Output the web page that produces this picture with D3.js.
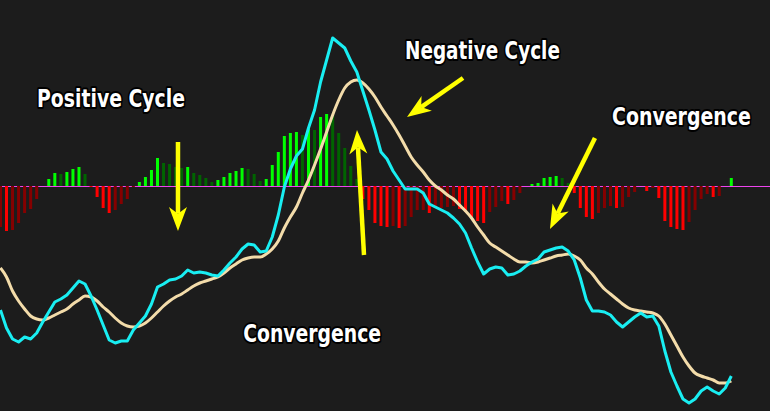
<!DOCTYPE html>
<html>
<head>
<meta charset="utf-8">
<script src="https://cdn.jsdelivr.net/npm/d3@7"></script>
<style>
  html, body { margin: 0; padding: 0; background: #1c1c1c; }
  svg { display: block; }
  .lbl { font-family: "DejaVu Sans", "Liberation Sans", sans-serif; font-weight: bold; }
</style>
</head>
<body>
<svg id="chart" width="770" height="411"></svg>
<script>
// Histogram values (one per period), zero-centered
const histogram = [
  -41, -45, -44, -37, -27, -23, -13, 0, 7, 13, 12, 14, 17, 19, 12, -1, -11, -22, -27, -24,
  -18, -13, -1, 4, 9, 16, 28, 23, 22, 19, 18, 19, 13, 11, 8, 4, 6, 9, 13, 15,
  18, 17, 12, 5, 7, 21, 34, 50, 53, 54, 51, 57, 56, 69, 72, 71, 53, 38, 20, 7,
  -13, -24, -37, -40, -41, -40, -42, -40, -31, -24, -24, -27, -22, -22, -21, -20, -23, -26, -31, -35,
  -37, -26, -21, -15, -18, -14, -7, 0, 2, 3, 8, 9, 10, 8, 3, -7, -22, -31, -33, -27,
  -22, -20, -22, -21, -11, -6, 0, -5, -2, -12, -35, -41, -43, -44, -36, -24, -13, -8, -11, -10,
  0, 8
];
// Fast line (cyan)
const fastLine = [
  -124, -142, -153, -156, -151, -153, -147, -136, -126, -116, -113, -109, -102, -95, -98, -110, -124, -139, -154, -157,
  -155, -155, -144, -137, -130, -118, -101, -98, -94, -93, -90, -84, -87, -86, -87, -89, -90, -84, -77, -71,
  -63, -58, -59, -66, -65, -51, -29, -1, 17, 30, 37, 58, 76, 104, 126, 148, 143, 138, 125, 114,
  95, 76, 56, 34, 27, 15, 6, -3, -3, -3, -7, -18, -21, -24, -27, -32, -38, -47, -62, -76,
  -88, -83, -81, -82, -89, -88, -85, -80, -76, -73, -66, -64, -62, -61, -65, -74, -92, -114, -125, -125,
  -126, -129, -136, -141, -136, -131, -127, -131, -130, -140, -165, -186, -200, -213, -217, -213, -205, -201, -205, -208,
  -202, -190
];
// Slow line (beige)
const slowLine = [
  -82, -91, -105, -115, -123, -130, -133, -134, -132, -129, -126, -123, -118, -114, -110, -111, -115, -121, -126, -132,
  -137, -140, -141, -140, -137, -132, -126, -120, -115, -111, -108, -104, -100, -97, -95, -93, -91, -87, -82, -78,
  -74, -72, -71, -71, -68, -63, -55, -42, -31, -21, -7, 6, 21, 37, 54, 71, 86, 98, 104, 106,
  103, 97, 89, 79, 70, 61, 51, 40, 29, 21, 14, 6, 0, -4, -9, -13, -19, -25, -32, -41,
  -49, -57, -61, -65, -69, -73, -76, -76, -77, -76, -74, -72, -70, -69, -68, -70, -74, -82, -88, -96,
  -103, -108, -113, -118, -122, -124, -125, -126, -127, -130, -138, -149, -160, -171, -180, -187, -190, -192, -194, -197,
  -197, -195
];
// Annotation labels: text, period index of centre, value of baseline
const labelTexts = ["Positive Cycle", "Negative Cycle", "Convergence", "Convergence"];
const labelIndex = [18.3, 79.8, 112.75, 51.6];
const labelValue = [79, 127, 61, -156];
const labelWidth = [148, 155, 139, 138];
// Annotation arrows: [fromIndex, fromValue, toIndex, toValue]
const arrows = [
  [29.39, 44, 29.39, -45],
  [60.19, -69, 59.03, 56],
  [76.58, 108, 67.31, 69],
  [98.43, 48, 90.98, -43]
];

const W = 770, H = 411;
const svg = d3.select("#chart");
svg.append("rect").attr("width", W).attr("height", H).attr("fill", "#1c1c1c");

const x = d3.scaleLinear().domain([0, histogram.length - 1]).range([0.46, 0.46 + 6.04 * (histogram.length - 1)]);
const y = d3.scaleLinear().domain([-225, 186]).range([H, 0]);
const y0 = y(0);

// zero line
svg.append("line")
  .attr("x1", 0).attr("x2", W)
  .attr("y1", Math.round(y0) + 0.5).attr("y2", Math.round(y0) + 0.5)
  .attr("stroke", "#ee44ee").attr("stroke-width", 1.2);

// histogram colours from momentum: bright when magnitude grows
function barColor(v, i) {
  const prev = i > 0 ? histogram[i - 1] : v;
  const growing = i > 0 && (Math.sign(prev) !== Math.sign(v) || Math.abs(v) > Math.abs(prev));
  if (v >= 0) return growing ? "#00ff00" : "#006400";
  return growing ? "#ff0000" : "#850000";
}

svg.append("g").selectAll("rect")
  .data(histogram)
  .join("rect")
  .attr("x", (d, i) => x(i) - 1.5)
  .attr("width", 3)
  .attr("y", d => d >= 0 ? y(d) : Math.round(y0))
  .attr("height", d => d >= 0 ? Math.max(0, Math.round(y0) - y(d)) : Math.max(0, y(d) - Math.round(y0)))
  .attr("fill", (d, i) => barColor(d, i));

// lines
const slowGen = d3.line().x((d, i) => x(i)).y(d => y(d)).curve(d3.curveMonotoneX);
const fastGen = d3.line().x((d, i) => x(i)).y(d => y(d));

svg.append("path").datum(slowLine)
  .attr("d", slowGen).attr("fill", "none")
  .attr("stroke", "#f3dcaa").attr("stroke-width", 3).attr("stroke-linejoin", "round");

svg.append("path").datum(fastLine)
  .attr("d", fastGen).attr("fill", "none")
  .attr("stroke", "#19eef2").attr("stroke-width", 3).attr("stroke-linejoin", "round");

// arrows
const arrowG = svg.append("g");
arrows.forEach(a => {
  const sx = x(a[0]), sy = y(a[1]), tx = x(a[2]), ty = y(a[3]);
  const len = Math.hypot(tx - sx, ty - sy);
  const dx = (tx - sx) / len, dy = (ty - sy) / len;
  const nx = -dy, ny = dx;
  const L = 24, Hw = 9, notch = 0.72;
  const bx = tx - dx * L, by = ty - dy * L;
  const mx = tx - dx * L * notch, my = ty - dy * L * notch;
  arrowG.append("line")
    .attr("x1", sx).attr("y1", sy).attr("x2", mx).attr("y2", my)
    .attr("stroke", "#ffff00").attr("stroke-width", 4.5);
  arrowG.append("path")
    .attr("d", `M${tx},${ty} L${bx + nx * Hw},${by + ny * Hw} L${mx},${my} L${bx - nx * Hw},${by - ny * Hw} Z`)
    .attr("fill", "#ffff00");
});

// labels: heavy bold text, horizontally condensed to the reference width
const lblG = svg.append("g");
labelTexts.forEach((t, i) => {
  const g = lblG.append("g");
  const txt = g.append("text")
    .attr("class", "lbl")
    .attr("x", 0).attr("y", 0)
    .attr("text-anchor", "middle")
    .attr("font-size", 24)
    .attr("fill", "#ffffff")
    .attr("stroke", "#000000")
    .attr("stroke-width", 4)
    .attr("stroke-linejoin", "round")
    .attr("paint-order", "stroke")
    .text(t);
  const natural = txt.node().getComputedTextLength() || labelWidth[i];
  const k = labelWidth[i] / natural;
  g.attr("transform", `translate(${x(labelIndex[i])},${y(labelValue[i])}) scale(${k},1)`);
});
</script>
</body>
</html>
